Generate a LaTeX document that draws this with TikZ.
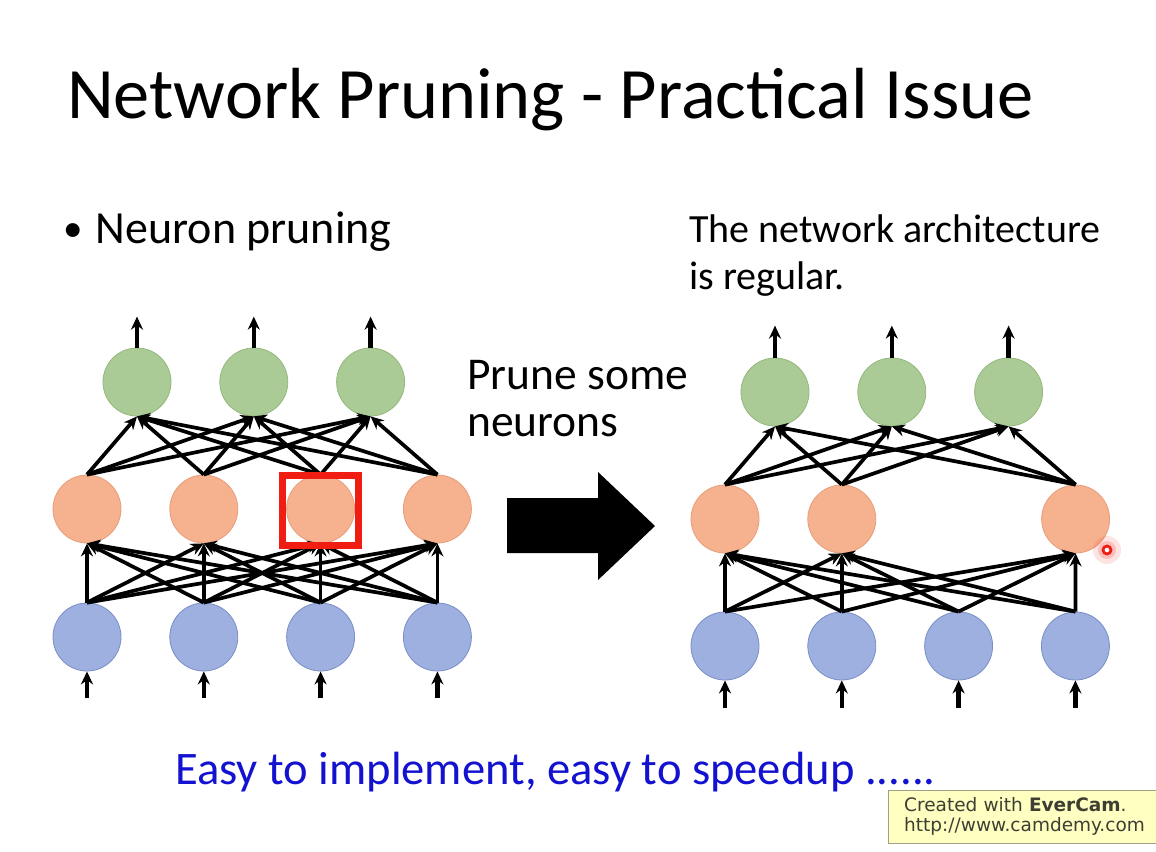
\documentclass[tikz,border=0pt]{standalone}
\usepackage{fontspec}
\setmainfont{Carlito}
\newfontfamily\stampfont{DejaVu Sans}
\usetikzlibrary{arrows.meta, positioning, calc}
\definecolor{outfill}{RGB}{170,203,150}
\definecolor{outedge}{RGB}{148,184,124}
\definecolor{hidfill}{RGB}{246,177,143}
\definecolor{hidedge}{RGB}{230,158,122}
\definecolor{infill}{RGB}{157,176,224}
\definecolor{inedge}{RGB}{122,142,198}
\definecolor{markred}{RGB}{240,30,18}
\definecolor{easyblue}{RGB}{18,18,208}
\definecolor{stampfill}{RGB}{255,255,194}
\definecolor{stampedge}{RGB}{160,160,135}
\definecolor{stamptext}{RGB}{62,62,50}

\begin{document}
\begin{tikzpicture}[x=1pt, y=-1pt, neuron/.style={circle,draw,line width=0.8pt,minimum size=68pt,inner sep=0pt}, outnode/.style={neuron,fill=outfill,draw=outedge}, hidnode/.style={neuron,fill=hidfill,draw=hidedge}, innode/.style={neuron,fill=infill,draw=inedge}, label/.style={anchor=base west,inner sep=0pt,align=left}, link/.style={->,line width=3.7pt}, stub/.style={->,line width=4.6pt}, >={Stealth[length=13pt,width=12pt]}, node distance=48pt]
        \useasboundingbox (0,0) rectangle (1156,851);
        \fill[white] (0,0) rectangle (1156,851);

        % texts
        \node[label, font=\fontsize{72.4}{86}\selectfont] (title) at (67,118) {Network Pruning - Practical Issue};
        \node[label, font=\fontsize{46}{55}\selectfont] (bullet) at (63,243) {\raisebox{2pt}{\scalebox{0.85}{\textbullet}}\hspace{13pt}Neuron pruning};
        \node[label, font=\fontsize{40}{47}\selectfont] (regular) at (689,289) {The network architecture\\is regular.};
        \node[label, font=\fontsize{45.5}{47}\selectfont] (prunetext) at (467,436) {Prune some\\neurons};

        % left network
        \node[outnode] (out1) at (137,382) {};
        \node[outnode, right=of out1] (out2) {};
        \node[outnode, right=of out2] (out3) {};
        \node[hidnode] (hid1) at (87,509) {};
        \node[hidnode, right=of hid1] (hid2) {};
        \node[hidnode, right=of hid2] (hid3) {};
        \node[hidnode, right=of hid3] (hid4) {};
        \node[innode] (in1) at (87,637) {};
        \node[innode, right=of in1] (in2) {};
        \node[innode, right=of in2] (in3) {};
        \node[innode, right=of in3] (in4) {};

        \path[link] (in1.north) edge (hid1.south) edge (hid2.south) edge (hid3.south) edge (hid4.south);
        \path[link] (in2.north) edge (hid1.south) edge (hid2.south) edge (hid3.south) edge (hid4.south);
        \path[link] (in3.north) edge (hid1.south) edge (hid2.south) edge (hid3.south) edge (hid4.south);
        \path[link] (in4.north) edge (hid1.south) edge (hid2.south) edge (hid3.south) edge (hid4.south);
        \path[link] (hid1.north) edge (out1.south) edge (out2.south) edge (out3.south);
        \path[link] (hid2.north) edge (out1.south) edge (out2.south) edge (out3.south);
        \path[link] (hid3.north) edge (out1.south) edge (out2.south) edge (out3.south);
        \path[link] (hid4.north) edge (out1.south) edge (out2.south) edge (out3.south);

        \coordinate[above=31pt of out1] (y1);
        \coordinate[above=31pt of out2] (y2);
        \coordinate[above=31pt of out3] (y3);
        \coordinate[below=27pt of in1] (x1);
        \coordinate[below=27pt of in2] (x2);
        \coordinate[below=27pt of in3] (x3);
        \coordinate[below=27pt of in4] (x4);
        \draw[stub] (out1) -- (y1);
        \draw[stub] (out2) -- (y2);
        \draw[stub] (out3) -- (y3);
        \draw[stub] (x1) -- (in1);
        \draw[stub] (x2) -- (in2);
        \draw[stub] (x3) -- (in3);
        \draw[stub] (x4) -- (in4);

        \node[draw=markred, line width=6.5pt, minimum width=76pt, minimum height=70pt, inner sep=0pt] (mark) at ($(hid3)+(0,1.5)$) {};

        % big arrow
        \fill (507,498) -- (598,498) -- (598,472) -- (655,526) -- (598,580) -- (598,553) -- (507,553) -- cycle;

        % right network
        \node[outnode] (rout1) at (775,392) {};
        \node[outnode, right=of rout1] (rout2) {};
        \node[outnode, right=of rout2] (rout3) {};
        \node[hidnode] (rhid1) at (725,519) {};
        \node[hidnode, right=of rhid1] (rhid2) {};
        \node[hidnode, right=165pt of rhid2] (rhid3) {};
        \node[innode] (rin1) at (725,646) {};
        \node[innode, right=of rin1] (rin2) {};
        \node[innode, right=of rin2] (rin3) {};
        \node[innode, right=of rin3] (rin4) {};

        \path[link] (rin1.north) edge (rhid1.south) edge (rhid2.south) edge (rhid3.south);
        \path[link] (rin2.north) edge (rhid1.south) edge (rhid2.south) edge (rhid3.south);
        \path[link] (rin3.north) edge (rhid1.south) edge (rhid2.south) edge (rhid3.south);
        \path[link] (rin4.north) edge (rhid1.south) edge (rhid2.south) edge (rhid3.south);
        \path[link] (rhid1.north) edge (rout1.south) edge (rout2.south) edge (rout3.south);
        \path[link] (rhid2.north) edge (rout1.south) edge (rout2.south) edge (rout3.south);
        \path[link] (rhid3.north) edge (rout1.south) edge (rout2.south) edge (rout3.south);

        \coordinate[above=32pt of rout1] (ry1);
        \coordinate[above=32pt of rout2] (ry2);
        \coordinate[above=32pt of rout3] (ry3);
        \coordinate[below=28pt of rin1] (rx1);
        \coordinate[below=28pt of rin2] (rx2);
        \coordinate[below=28pt of rin3] (rx3);
        \coordinate[below=28pt of rin4] (rx4);
        \draw[stub] (rout1) -- (ry1);
        \draw[stub] (rout2) -- (ry2);
        \draw[stub] (rout3) -- (ry3);
        \draw[stub] (rx1) -- (rin1);
        \draw[stub] (rx2) -- (rin2);
        \draw[stub] (rx3) -- (rin3);
        \draw[stub] (rx4) -- (rin4);

        % pointer dot
        \fill[markred, opacity=0.12] (1107,550) circle (14);
        \fill[markred, opacity=0.18] (1107,550) circle (9);
        \draw[markred, line width=2.8pt, fill=white] (1107,550) circle (4);

        % bottom line and stamp
        \node[draw=stampedge, fill=stampfill, anchor=north west, text width=255pt, inner xsep=16pt, minimum height=53pt, align=left, text=stamptext, font=\stampfont\fontsize{18.5}{20}\selectfont] (stamp) at (888,790) {Created with \textbf{EverCam}.\\http://www.camdemy.com};
        \node[label, text=easyblue, font=\fontsize{46.6}{55}\selectfont] (easy) at (175,784) {Easy to implement, easy to speedup ......};
    \end{tikzpicture}
\end{document}
